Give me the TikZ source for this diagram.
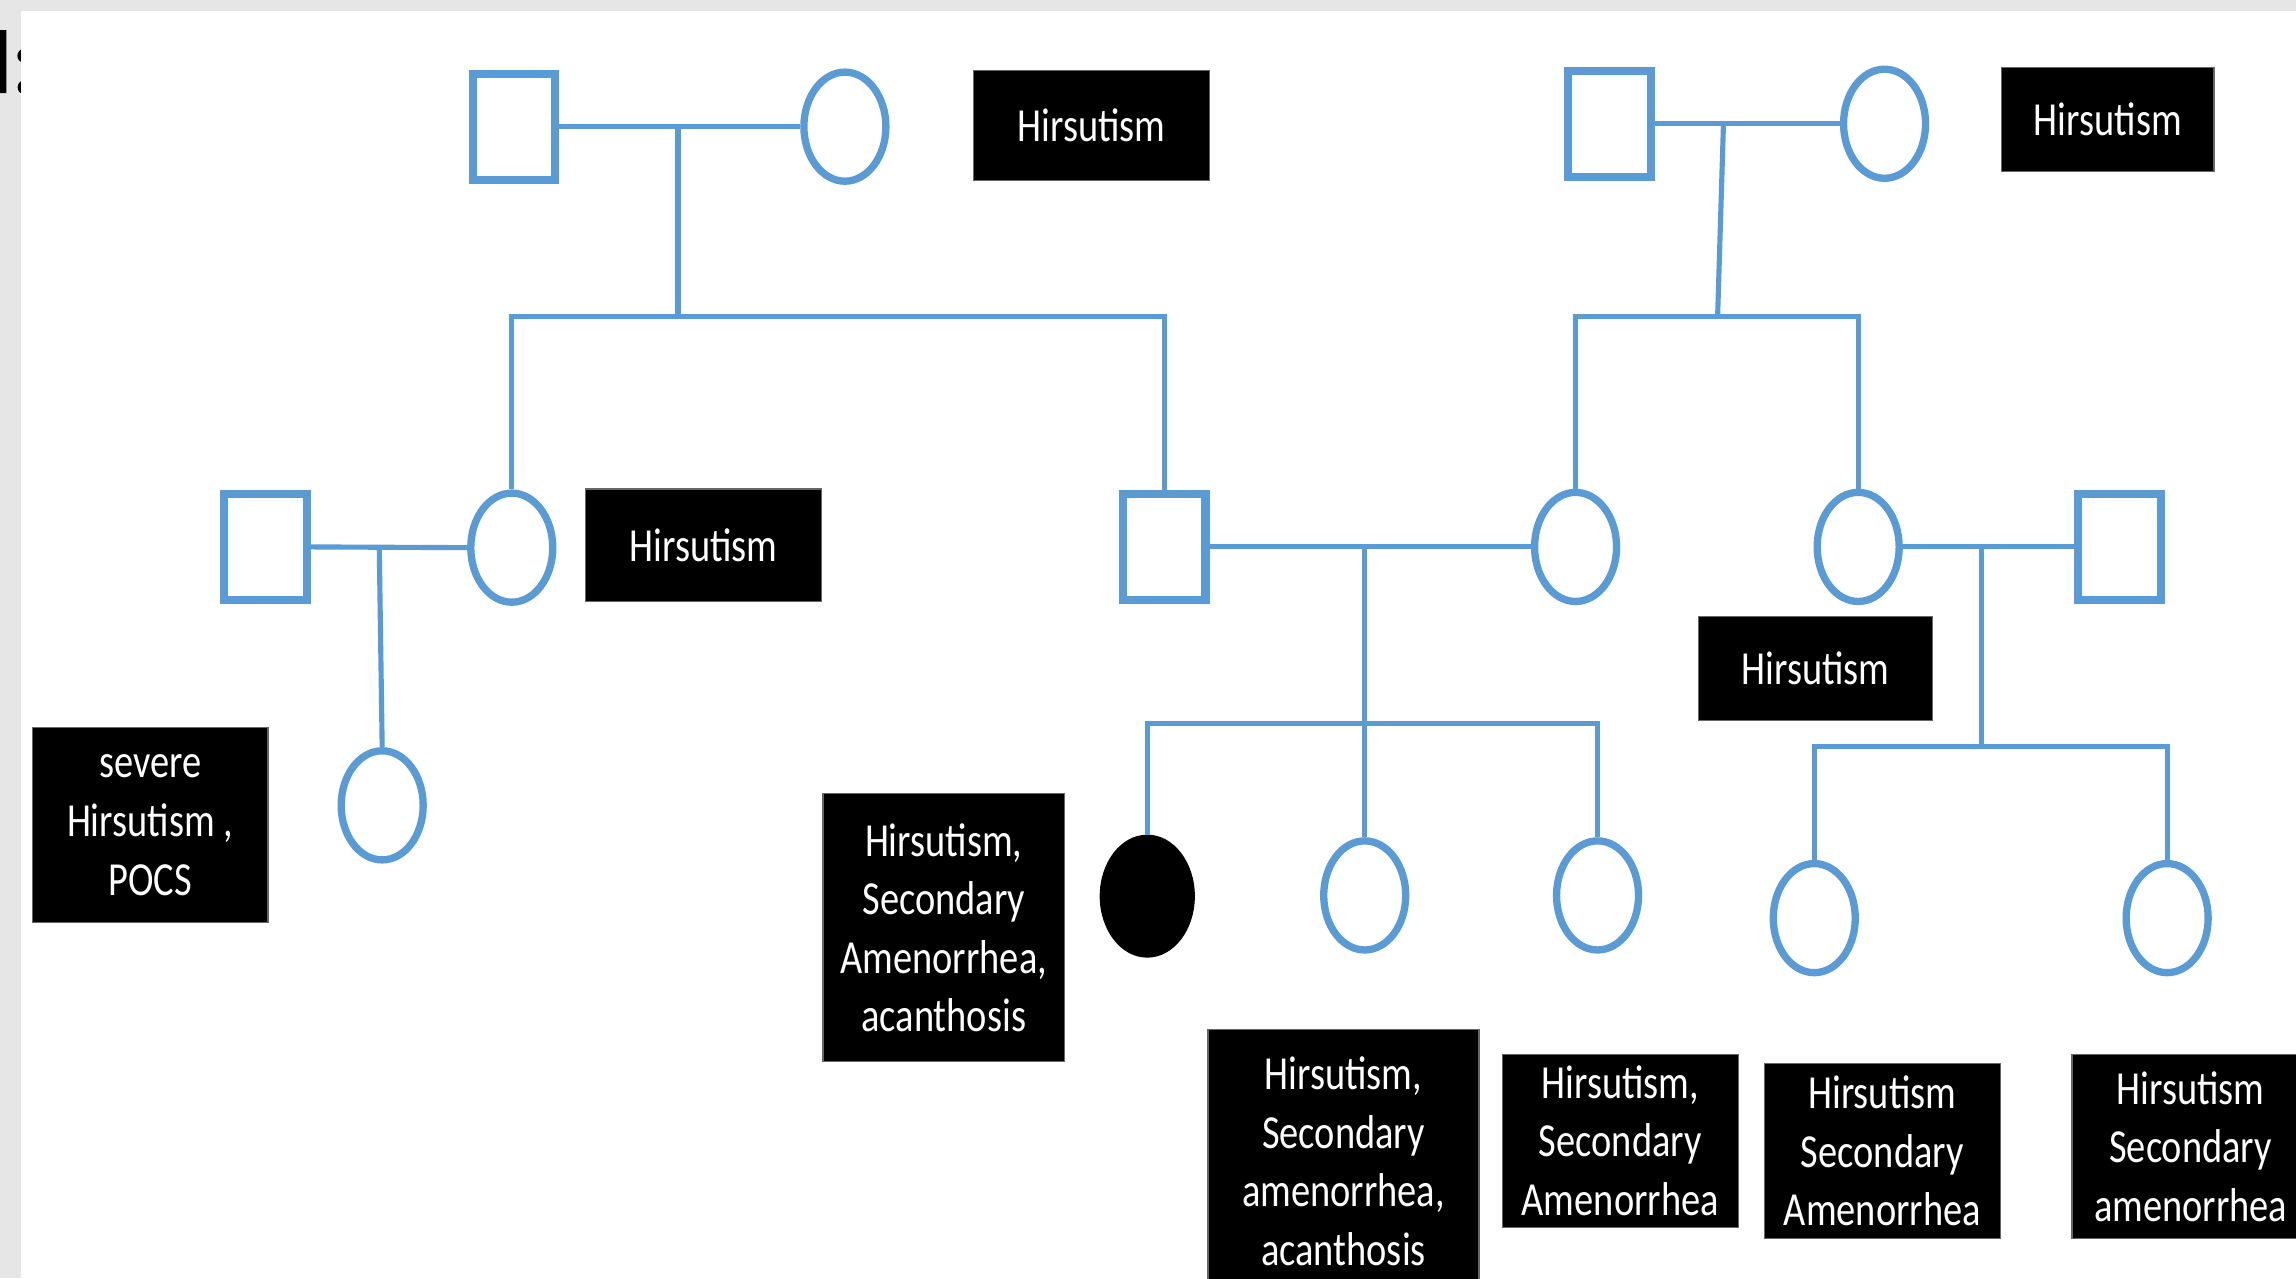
\documentclass[tikz,border=0pt]{standalone}
\usepackage{fontspec}
\usetikzlibrary{shapes.geometric}
\newfontfamily\lblfont[FakeStretch=0.81]{Carlito}
\newfontfamily\headfont[FakeStretch=0.9,FakeBold=2]{Carlito}
\definecolor{pedblue}{HTML}{5B9BD5}
\definecolor{slidegray}{HTML}{E6E6E6}
\begin{document}
\begin{tikzpicture}[x=1pt,y=-1pt,
  male/.style={draw=pedblue, line width=5.5pt, minimum width=56.5pt, minimum height=72.5pt, inner sep=0pt, fill=white},
  female/.style={ellipse, draw=pedblue, line width=5pt, minimum width=56pt, minimum height=74.5pt, inner sep=0pt, fill=white},
  affected/.style={ellipse, fill=black, draw=black, line width=1pt, minimum width=64pt, minimum height=83pt, inner sep=0pt},
  link/.style={draw=pedblue, line width=3.5pt},
  tag/.style={fill=black, draw=black!60, line width=0.8pt, text=white, font=\lblfont\fontsize{32.4}{40}\selectfont, align=center, inner sep=0pt}
]
\useasboundingbox (0,0) rectangle (1568,873);
\clip (0,0) rectangle (1568,873);
\fill[slidegray] (0,0) rectangle (1568,873);
\node[anchor=base west, inner sep=0pt, font=\headfont\fontsize{65}{70}\selectfont] (title) at (-6.5,63) {I:};
\fill[white] (14.5,7.5) rectangle (1568,873);

% generation I
\node[male] (A) at (351,86.5) {};
\node[female] (B) at (577,86.5) {};
\node[male] (C) at (1099,84.5) {};
\node[female] (D) at (1287,84.5) {};

% generation II
\node[male] (E) at (181.5,373.5) {};
\node[female] (F) at (349.5,374) {};
\node[male] (H) at (795,373.5) {};
\node[female] (I) at (1076,373.5) {};
\node[female] (M) at (1269,373.5) {};
\node[male] (N) at (1447.5,373.5) {};

% generation III
\node[female] (G) at (261,550) {};
\node[affected] (J) at (783.5,612) {};
\node[female] (K) at (932,611.5) {};
\node[female] (L) at (1091,611.5) {};
\node[female] (O) at (1239,627) {};
\node[female] (P) at (1480,627) {};

% junctions
\coordinate (j1) at (463,86.5);
\coordinate (s1) at (463,216);
\coordinate (j2) at (1177,84.5);
\coordinate (s2) at (1173,216);
\coordinate (j3) at (259,373.5);
\coordinate (j4) at (932,373.5);
\coordinate (s4) at (932,494);
\coordinate (j5) at (1353,373.5);
\coordinate (s5) at (1353,510);

% connectors
\draw[link] (A.east) -- (B.west);
\draw[link] (j1) -- (s1);
\draw[link] (F.north) |- (s1) -| (H.north);
\draw[link] (C.east) -- (D.west);
\draw[link] (j2) -- (s2);
\draw[link] (I.north) |- (s2) -| (M.north);
\draw[link] (E.east) -- (F.west);
\draw[link] (j3) -- (G.north);
\draw[link] (H.east) -- (I.west);
\draw[link] (j4) -- (s4);
\draw[link] (J.north) |- (s4) -| (L.north);
\draw[link] (s4) -- (K.north);
\draw[link] (M.east) -- (N.west);
\draw[link] (j5) -- (s5);
\draw[link] (O.north) |- (s5) -| (P.north);

% labels
\node[tag, minimum width=161pt, minimum height=75pt] (tB) at (745.5,85.5) {Hirsutism};
\node[tag, minimum width=145pt, minimum height=71pt] (tD) at (1439.5,81.5) {Hirsutism};
\node[tag, minimum width=161pt, minimum height=77pt] (tF) at (480.5,372.5) {Hirsutism};
\node[tag, minimum width=160pt, minimum height=71pt] (tM) at (1240,456.5) {Hirsutism};
\node[tag, minimum width=161pt, minimum height=133pt] (tG) at (102.5,563.5) {severe\\Hirsutism ,\\POCS};
\node[tag, minimum width=165pt, minimum height=183pt] (tJ) at (644.5,633.5) {Hirsutism,\\Secondary\\Amenorrhea,\\acanthosis};
\node[tag, minimum width=185pt, minimum height=180pt] (tK) at (917.5,793) {Hirsutism,\\Secondary\\amenorrhea,\\acanthosis};
\node[tag, minimum width=161pt, minimum height=118pt] (tL) at (1106.5,779) {Hirsutism,\\Secondary\\Amenorrhea};
\node[tag, minimum width=161pt, minimum height=120pt] (tO) at (1285.5,786) {Hirsutism\\Secondary\\Amenorrhea};
\node[tag, minimum width=162pt, minimum height=126pt] (tP) at (1496,783) {Hirsutism\\Secondary\\amenorrhea};
\end{tikzpicture}
\end{document}
